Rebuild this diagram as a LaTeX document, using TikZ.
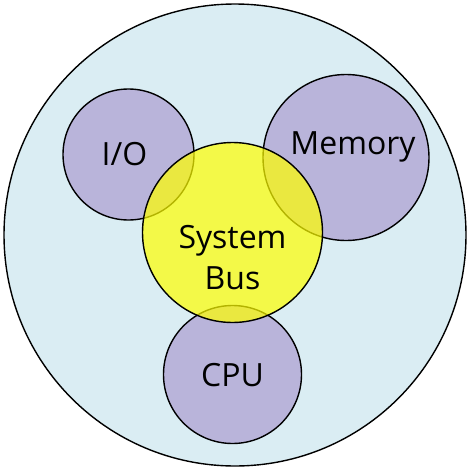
\documentclass[tikz,border=0pt]{standalone}
\usepackage{fontspec}
\setmainfont{Open Sans}
\definecolor{bgblue}{RGB}{218,237,243}
\definecolor{lilac}{RGB}{185,180,218}
\definecolor{busyellow}{RGB}{255,255,0}
\begin{document}
\begin{tikzpicture}[x=1pt,y=-1pt,
  blob/.style={circle,draw=black,line width=1.4pt,inner sep=0pt,align=center},
  part/.style={blob,fill=lilac},
  bus/.style={blob,fill=busyellow,fill opacity=0.7,text opacity=1},
  lbl/.style={font=\fontsize{32}{41}\selectfont,align=center,text=black}]
\useasboundingbox (0,0) rectangle (471,472);
\node[blob,fill=bgblue,minimum size=462pt] (outer) at (235,235) {};
\node[part,minimum size=131pt] (io) at (128.5,154.5) {};
\node[part,minimum size=166pt] (mem) at (346,157.5) {};
\node[part,minimum size=138pt] (cpu) at (232.5,374.5) {};
\node[bus,minimum size=180pt] (sysbus) at (232.5,232.5) {};
\node[lbl] (iot) at ([xshift=-4pt]io.center) {I/O};
\node[lbl] (memt) at ([xshift=7pt,yshift=11pt]mem.center) {Memory};
\node[lbl] (cput) at ([yshift=-1pt]cpu.center) {CPU};
\node[lbl] (bust) at ([yshift=-25pt]sysbus.center) {System\\Bus};
\end{tikzpicture}
\end{document}
